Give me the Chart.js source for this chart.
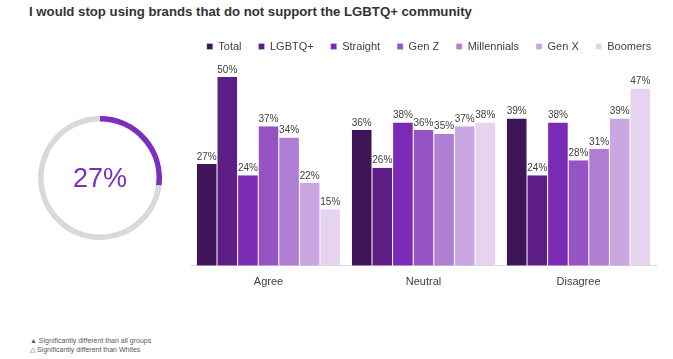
<!DOCTYPE html>
<html><head><meta charset="utf-8">
<script src="https://cdn.jsdelivr.net/npm/chart.js@4/dist/chart.umd.min.js"></script>
<style>
html,body{margin:0;padding:0;background:#fff;width:673px;height:359px;overflow:hidden;font-family:Arial,"Liberation Sans",sans-serif;}
#title{position:absolute;left:29px;top:4px;font-size:13.2px;font-weight:bold;color:#333;white-space:nowrap;}
#barWrap{position:absolute;left:185px;top:0;width:488px;height:299px;}
#donutWrap{position:absolute;left:38px;top:116px;width:124px;height:124px;}
#donutText{position:absolute;left:38px;top:116px;width:124px;height:124px;line-height:124px;text-align:center;font-size:27px;color:#7b2fbe;}
#foot{position:absolute;left:30px;top:336px;font-size:7px;line-height:9px;color:#595959;white-space:nowrap;}
</style></head>
<body>
<div id="title">I would stop using brands that do not support the LGBTQ+ community</div>
<div id="donutWrap"><canvas id="donut"></canvas></div>
<div id="donutText">27%</div>
<div id="barWrap"><canvas id="bars"></canvas></div>
<div id="foot">▲ Significantly different than all groups<br>△ Significantly different than Whites</div>
<script>
const categories = ["Agree", "Neutral", "Disagree"];
const seriesNames = ["Total", "LGBTQ+", "Straight", "Gen Z", "Millennials", "Gen X", "Boomers"];
const total = [27, 36, 39];
const lgbtq = [50, 26, 24];
const straight = [24, 38, 38];
const genZ = [37, 36, 28];
const millennials = [34, 35, 31];
const genX = [22, 37, 39];
const boomers = [15, 38, 47];
const donutValue = 27;
const colors = ["#3f1558", "#5c1d84", "#7b2ab5", "#9553c4", "#b07fd3", "#caa7e1", "#e5d3ef"];
const seriesValues = [total, lgbtq, straight, genZ, millennials, genX, boomers];

const labelPlugin = {
  id: 'barLabels',
  afterDatasetsDraw(chart) {
    const ctx = chart.ctx;
    ctx.save();
    ctx.font = '10px Arial, "Liberation Sans", sans-serif';
    ctx.fillStyle = '#404040';
    ctx.textAlign = 'center';
    ctx.textBaseline = 'bottom';
    chart.data.datasets.forEach((ds, i) => {
      const meta = chart.getDatasetMeta(i);
      meta.data.forEach((bar, j) => {
        ctx.fillText(ds.data[j] + '%', bar.x, bar.y - 2);
      });
    });
    ctx.restore();
  }
};

new Chart(document.getElementById('bars'), {
  type: 'bar',
  data: {
    labels: categories,
    datasets: seriesNames.map((n, i) => ({
      label: n,
      data: seriesValues[i],
      backgroundColor: colors[i],
      borderColor: '#ffffff',
      borderWidth: {left: 0.5, right: 0.5, top: 0, bottom: 0},
      categoryPercentage: 0.93,
      barPercentage: 1.0
    }))
  },
  options: {
    responsive: true,
    maintainAspectRatio: false,
    animation: false,
    layout: {padding: {left: 0, right: 0, top: 24, bottom: 8}},
    plugins: {
      legend: {
        position: 'top',
        labels: {
          boxWidth: 6, boxHeight: 6, padding: 17,
          color: '#404040',
          font: {size: 11, family: 'Arial, "Liberation Sans", sans-serif'}
        }
      },
      tooltip: {enabled: false}
    },
    scales: {
      x: {
        grid: {display: false},
        border: {display: true, color: '#d9d9d9', width: 1},
        ticks: {color: '#404040', font: {size: 11, family: 'Arial, "Liberation Sans", sans-serif'}, padding: 2}
      },
      y: {
        position: 'left', min: 0, max: 54,
        ticks: {display: false}, grid: {display: false}, border: {display: false},
        afterFit(s) { s.width = 6; }
      },
      y2: {
        position: 'right', min: 0, max: 54,
        ticks: {display: false}, grid: {display: false}, border: {display: false},
        afterFit(s) { s.width = 17; }
      }
    }
  },
  plugins: [labelPlugin]
});

new Chart(document.getElementById('donut'), {
  type: 'doughnut',
  data: {
    labels: ['Agree', 'Other'],
    datasets: [{data: [donutValue, 100 - donutValue], backgroundColor: ['#7b2fbe', '#d9d9d9'], borderWidth: 0}]
  },
  options: {
    responsive: true, maintainAspectRatio: false, animation: false,
    cutout: '91%',
    plugins: {legend: {display: false}, tooltip: {enabled: false}}
  }
});
</script>
</body></html>
